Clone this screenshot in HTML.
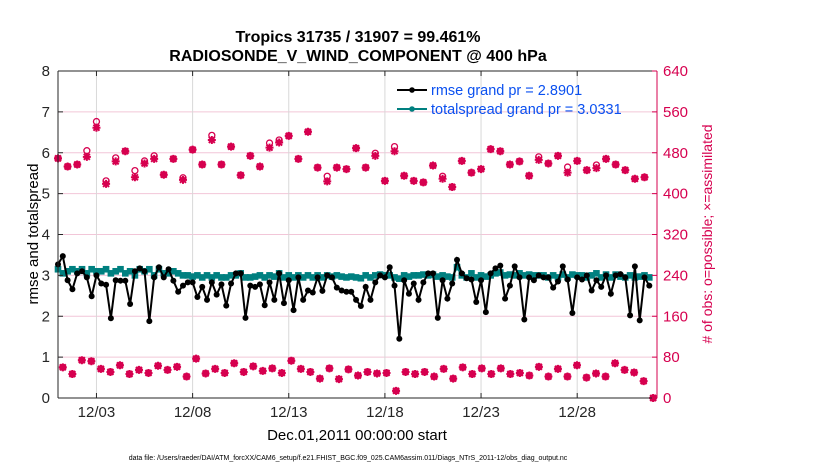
<!DOCTYPE html>
<html><head><meta charset="utf-8"><style>
body{margin:0;background:#fff;width:830px;height:470px;overflow:hidden;font-family:"Liberation Sans",sans-serif}
svg text{font-family:"Liberation Sans",sans-serif}
</style></head><body>
<svg id="chart" width="830" height="470" xmlns="http://www.w3.org/2000/svg">
<text x="358" y="42" font-size="16" font-weight="bold" text-anchor="middle">Tropics 31735 / 31907 = 99.461%</text>
<text x="358" y="61" font-size="16" font-weight="bold" text-anchor="middle">RADIOSONDE_V_WIND_COMPONENT @ 400 hPa</text>
<g id="grid"></g>
<g id="marks"></g>
<g id="axes"></g>
<text transform="translate(38,234) rotate(-90)" font-size="15" text-anchor="middle">rmse and totalspread</text>
<text transform="translate(712,234) rotate(-90)" font-size="14" fill="#d6004f" text-anchor="middle"># of obs: o=possible; ×=assimilated</text>
<text x="357" y="440" font-size="15" text-anchor="middle">Dec.01,2011 00:00:00 start</text>
<text x="348" y="460" font-size="7" text-anchor="middle">data file: /Users/raeder/DAI/ATM_forcXX/CAM6_setup/f.e21.FHIST_BGC.f09_025.CAM6assim.011/Diags_NTrS_2011-12/obs_diag_output.nc</text>
<g>
<line x1="397" y1="90" x2="427" y2="90" stroke="#000" stroke-width="2"/><circle cx="412" cy="90" r="2.8" fill="#000"/>
<text x="431" y="95" font-size="14.5" fill="#0a50f0">rmse grand pr = 2.8901</text>
<line x1="397" y1="109" x2="427" y2="109" stroke="#008080" stroke-width="2"/><circle cx="412" cy="109" r="2.8" fill="#008080"/>
<text x="431" y="114" font-size="14.5" fill="#0a50f0">totalspread grand pr = 3.0331</text>
</g>
</svg>
<script>
const leftTicks=[0,1,2,3,4,5,6,7,8];
const rightTicks=[0,80,160,240,320,400,480,560,640];
const dateLabels=["12/03","12/08","12/13","12/18","12/23","12/28"];
const dateDays=[2,7,12,17,22,27];
const rmse=[3.27,3.47,2.88,2.66,3.05,3.1,2.95,2.49,3.0,2.8,2.77,1.95,2.88,2.87,2.87,2.3,3.1,3.17,3.1,1.88,2.95,3.2,2.95,3.15,2.87,2.6,2.75,2.83,2.83,2.47,2.72,2.4,2.83,2.53,2.78,2.26,2.8,3.05,3.05,1.96,2.75,2.72,2.78,2.27,2.83,2.4,3.05,2.32,2.88,2.15,2.95,2.4,2.63,2.58,2.95,2.62,3.0,2.95,2.7,2.63,2.6,
2.6,2.4,2.25,2.72,2.4,2.83,3.0,2.95,3.2,2.75,1.45,2.88,2.55,2.8,2.4,2.83,3.05,3.05,1.96,2.88,2.43,2.8,3.38,3.05,2.93,2.9,2.35,2.88,2.1,3.05,3.17,3.24,2.43,2.75,3.22,2.95,1.92,2.95,2.88,3.0,2.95,2.95,2.7,2.85,3.22,2.9,2.08,2.95,2.9,3.0,2.63,2.88,2.72,3.0,2.55,3.0,3.03,2.95,2.02,3.22,1.9,2.95,2.75];
const spread=[3.15,3.05,3.1,3.15,3.1,3.15,3.05,3.15,3.1,3.1,3.15,3.05,3.1,3.15,3.05,3.1,3.0,3.15,3.1,3.15,3.0,3.15,3.05,3.05,3.1,3.05,3.0,3.0,2.97,3.0,2.95,3.0,2.95,3.0,2.95,2.95,3.0,3.0,3.05,2.95,2.95,2.97,3.0,2.95,3.0,2.97,3.05,2.95,3.0,2.95,3.0,2.95,3.0,2.95,3.0,2.95,3.0,2.97,3.0,2.97,2.95,
2.97,2.95,2.93,3.0,2.95,3.0,3.02,3.0,3.0,2.95,2.92,3.0,2.97,3.0,3.0,3.02,3.0,3.02,2.97,3.0,2.97,2.95,3.2,3.0,2.95,3.05,2.95,3.0,2.97,3.0,3.05,3.07,3.0,3.02,3.0,3.05,3.0,3.02,3.0,3.0,3.0,2.95,3.0,2.95,3.02,2.95,3.02,3.0,3.0,2.95,3.0,3.05,2.95,3.02,2.95,3.02,2.97,2.95,3.0,2.95,2.97,3.0,2.95];
const assimUpper=[469,453,457,472,529,419,463,483,432,459,468,437,468,427,486,457,505,457,492,436,474,453,490,500,513,468,521,451,424,451,448,489,
451,474,425,483,435,425,422,455,429,413,464,441,448,487,483,457,463,435,466,459,474,441,464,446,450,468,457,446,429,432];
const possUpper=[469,453,457,484,541,425,470,483,445,464,474,437,468,431,486,457,514,457,492,436,474,453,499,505,513,468,521,451,434,451,448,489,
451,479,425,492,435,425,422,455,434,413,464,441,448,487,483,457,463,435,472,459,474,452,464,446,456,468,457,446,429,432];
const assimLower=[60,47,74,72,57,51,64,47,55,49,63,55,61,42,77,48,57,49,68,51,62,53,58,49,73,57,51,38,58,37,
56,44,51,48,49,14,51,47,51,42,57,38,60,47,58,47,58,47,49,44,61,42,57,42,64,40,48,42,68,55,50,33,0];

const X0=58,X1=657,Y0=398,Y1=71,DAYS=31.15;
const xd=d=>X0+(X1-X0)*d/DAYS;
const yl=v=>Y0-(Y0-Y1)*v/8;
const yr=v=>Y0-(Y0-Y1)*v/640;
const NS="http://www.w3.org/2000/svg";
function mk(tag,attrs,parent){const e=document.createElementNS(NS,tag);for(const k in attrs)e.setAttribute(k,attrs[k]);parent.appendChild(e);return e;}
const grid=document.getElementById('grid'),marks=document.getElementById('marks'),axes=document.getElementById('axes');
rightTicks.forEach(t=>{const l=mk('line',{x1:X0,x2:X1,y1:yr(t),y2:yr(t),stroke:'#f2c6d8','stroke-width':1},grid);

});
dateDays.forEach(d=>{const l=mk('line',{x1:xd(d),x2:xd(d),y1:Y1,y2:Y0,stroke:'#d8d8d8','stroke-width':1},grid);

});
function star(x,y,p,name){const g=mk('g',{},p);
mk('path',{d:`M${x-4},${y}H${x+4}M${x},${y-4}V${y+4}M${x-3},${y-3}L${x+3},${y+3}M${x-3},${y+3}L${x+3},${y-3}`,stroke:'#d6004f','stroke-width':2},g);
mk('circle',{cx:x,cy:y,r:2.6,fill:'#d6004f'},g);}
possUpper.forEach((v,i)=>{const c=mk('circle',{cx:xd(i*0.5),cy:yr(v),r:3,fill:'none',stroke:'#d6004f','stroke-width':1.3},marks);

});
assimUpper.forEach((v,i)=>star(xd(i*0.5),yr(v),marks,'obs-assimilated-upper'));
assimLower.forEach((v,i)=>{const d=0.25+i*(30.95-0.25)/(assimLower.length-1);
const c=mk('circle',{cx:xd(d),cy:yr(v),r:3,fill:'none',stroke:'#d6004f','stroke-width':1.3},marks);


star(xd(d),yr(v),marks,'obs-assimilated-lower');});
function series(arr,color,name,sq){const pts=arr.map((v,i)=>[xd(i*0.25),yl(v)]);
const pl=mk('polyline',{points:pts.map(p=>p.join(',')).join(' '),fill:'none',stroke:color,'stroke-width':2},marks);


pts.forEach(p=>{const m=sq?mk('rect',{x:p[0]-3.3,y:p[1]-3.3,width:6.6,height:6.6,fill:color},marks):mk('circle',{cx:p[0],cy:p[1],r:3,fill:color},marks);

});}
series(spread,'#008080','totalspread',true);
series(rmse,'#000','rmse',false);
mk('line',{x1:X0,x2:X1,y1:Y1,y2:Y1,stroke:'#262626','stroke-width':1},axes);
mk('line',{x1:X0,x2:X1,y1:Y0,y2:Y0,stroke:'#262626','stroke-width':1},axes);
mk('line',{x1:X0,x2:X0,y1:Y1,y2:Y0,stroke:'#262626','stroke-width':1},axes);
mk('line',{x1:X1,x2:X1,y1:Y1,y2:Y0,stroke:'#d6004f','stroke-width':1},axes);
leftTicks.forEach(t=>{mk('line',{x1:X0,x2:X0+5,y1:yl(t),y2:yl(t),stroke:'#262626'},axes);
const tx=mk('text',{x:X0-8,y:yl(t)+5,'font-size':15,'text-anchor':'end',fill:'#262626'},axes);tx.textContent=t;

});
rightTicks.forEach(t=>{mk('line',{x1:X1-5,x2:X1,y1:yr(t),y2:yr(t),stroke:'#d6004f'},axes);
const tx=mk('text',{x:X1+6,y:yr(t)+5,'font-size':15,fill:'#d6004f'},axes);tx.textContent=t;

});
dateLabels.forEach((s,i)=>{const x=xd(dateDays[i]);mk('line',{x1:x,x2:x,y1:Y0-5,y2:Y0,stroke:'#262626'},axes);
mk('line',{x1:x,x2:x,y1:Y1,y2:Y1+5,stroke:'#262626'},axes);
const tx=mk('text',{x:x,y:Y0+19,'font-size':15,'text-anchor':'middle',fill:'#262626'},axes);tx.textContent=s;

});
</script>
</body></html>
